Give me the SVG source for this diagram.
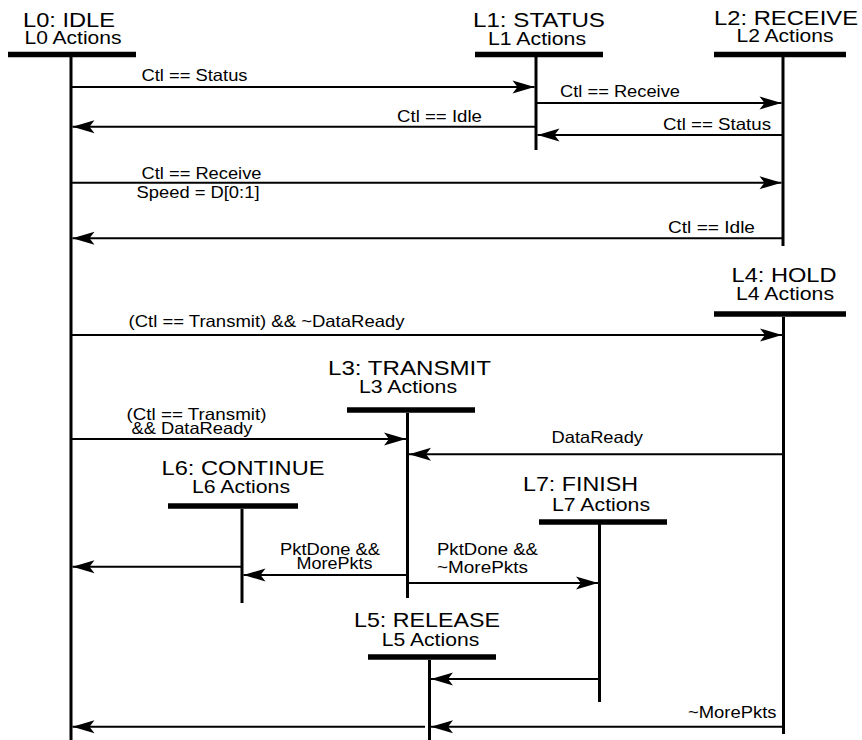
<svg xmlns="http://www.w3.org/2000/svg" width="862" height="740" viewBox="0 0 862 740">
  <style>
    text { font-family: "Liberation Sans", Arial, sans-serif; fill: #000; }
    .title { font-size: 21px; text-anchor: middle; }
    .act { font-size: 17.5px; text-anchor: middle; }
    .lbl { font-size: 16.5px; }
    .bar { stroke: #000; stroke-width: 5.5; }
    .life { stroke: #000; stroke-width: 3; }
    .msg { stroke: #000; stroke-width: 2; fill: none; }
    .arr { marker-end: url(#ah); }
  </style>
  <defs>
    <marker id="ah" markerUnits="userSpaceOnUse" markerWidth="24" markerHeight="16" viewBox="-23 -8 24 16" refX="0" refY="0" orient="auto">
      <path d="M0,0 L-22,-6.5 L-17,0 L-22,6.5 Z" fill="#000"/>
    </marker>
  </defs>
  <rect width="862" height="740" fill="#fff"/>

  <g id="L0">
    <text class="title" x="69" y="27" textLength="92" lengthAdjust="spacingAndGlyphs">L0: IDLE</text>
    <text class="act" x="73" y="44" textLength="97" lengthAdjust="spacingAndGlyphs">L0 Actions</text>
    <line class="bar" x1="8" y1="54.5" x2="136" y2="54.5"/>
    <line class="life" x1="71" y1="57" x2="71" y2="740"/>
  </g>
  <g id="L1">
    <text class="title" x="539" y="27" textLength="132" lengthAdjust="spacingAndGlyphs">L1: STATUS</text>
    <text class="act" x="537" y="45" textLength="98" lengthAdjust="spacingAndGlyphs">L1 Actions</text>
    <line class="bar" x1="475" y1="54.5" x2="603" y2="54.5"/>
    <line class="life" x1="536" y1="57" x2="536" y2="150"/>
  </g>
  <g id="L2">
    <text class="title" x="786" y="25" textLength="144" lengthAdjust="spacingAndGlyphs">L2: RECEIVE</text>
    <text class="act" x="785" y="42" textLength="97" lengthAdjust="spacingAndGlyphs">L2 Actions</text>
    <line class="bar" x1="714" y1="54.5" x2="846" y2="54.5"/>
    <line class="life" x1="783" y1="57" x2="783" y2="246"/>
  </g>
  <g id="L4">
    <text class="title" x="784" y="282" textLength="105" lengthAdjust="spacingAndGlyphs">L4: HOLD</text>
    <text class="act" x="785" y="300" textLength="98" lengthAdjust="spacingAndGlyphs">L4 Actions</text>
    <line class="bar" x1="714" y1="314" x2="846" y2="314"/>
    <line class="life" x1="783.5" y1="317" x2="783.5" y2="734"/>
  </g>
  <g id="L3">
    <text class="title" x="409.5" y="375" textLength="163" lengthAdjust="spacingAndGlyphs">L3: TRANSMIT</text>
    <text class="act" x="408" y="393" textLength="98" lengthAdjust="spacingAndGlyphs">L3 Actions</text>
    <line class="bar" x1="347" y1="410" x2="475" y2="410"/>
    <line class="life" x1="407.5" y1="413" x2="407.5" y2="598"/>
  </g>
  <g id="L6">
    <text class="title" x="243" y="475" textLength="163" lengthAdjust="spacingAndGlyphs">L6: CONTINUE</text>
    <text class="act" x="241" y="493" textLength="98" lengthAdjust="spacingAndGlyphs">L6 Actions</text>
    <line class="bar" x1="168" y1="506" x2="298" y2="506"/>
    <line class="life" x1="242" y1="509" x2="242" y2="603"/>
  </g>
  <g id="L7">
    <text class="title" x="580.5" y="491" textLength="115" lengthAdjust="spacingAndGlyphs">L7: FINISH</text>
    <text class="act" x="601" y="511" textLength="98" lengthAdjust="spacingAndGlyphs">L7 Actions</text>
    <line class="bar" x1="539" y1="522" x2="667" y2="522"/>
    <line class="life" x1="599.5" y1="524" x2="599.5" y2="702"/>
  </g>
  <g id="L5">
    <text class="title" x="427" y="627" textLength="146" lengthAdjust="spacingAndGlyphs">L5: RELEASE</text>
    <text class="act" x="430.5" y="646" textLength="97.5" lengthAdjust="spacingAndGlyphs">L5 Actions</text>
    <line class="bar" x1="368" y1="657" x2="496" y2="657"/>
    <line class="life" x1="429.5" y1="660" x2="429.5" y2="740"/>
  </g>

  <g id="connectors">
    <line class="msg arr" x1="72" y1="87" x2="534.5" y2="87"/>
    <text class="lbl" x="141.5" y="81" textLength="106" lengthAdjust="spacingAndGlyphs">Ctl == Status</text>

    <line class="msg arr" x1="537" y1="103" x2="781.5" y2="103"/>
    <text class="lbl" x="560" y="97" textLength="120" lengthAdjust="spacingAndGlyphs">Ctl == Receive</text>

    <line class="msg arr" x1="535" y1="126.7" x2="72.5" y2="126.7"/>
    <text class="lbl" x="397" y="122" textLength="85" lengthAdjust="spacingAndGlyphs">Ctl == Idle</text>

    <line class="msg arr" x1="782" y1="135" x2="537.5" y2="135"/>
    <text class="lbl" x="663" y="130" textLength="108" lengthAdjust="spacingAndGlyphs">Ctl == Status</text>

    <line class="msg arr" x1="72" y1="182.7" x2="781.5" y2="182.7"/>
    <text class="lbl" x="141.5" y="179" textLength="120" lengthAdjust="spacingAndGlyphs">Ctl == Receive</text>
    <text class="lbl" x="136.5" y="198" textLength="123" lengthAdjust="spacingAndGlyphs">Speed = D[0:1]</text>

    <line class="msg arr" x1="782" y1="238.3" x2="72.5" y2="238.3"/>
    <text class="lbl" x="668" y="233" textLength="87" lengthAdjust="spacingAndGlyphs">Ctl == Idle</text>

    <line class="msg arr" x1="72" y1="335" x2="782" y2="335"/>
    <text class="lbl" x="128.5" y="327" textLength="276" lengthAdjust="spacingAndGlyphs">(Ctl == Transmit) &amp;&amp; ~DataReady</text>

    <line class="msg arr" x1="72" y1="439" x2="406" y2="439"/>
    <text class="lbl" x="126.5" y="420" textLength="140" lengthAdjust="spacingAndGlyphs">(Ctl == Transmit)</text>
    <text class="lbl" x="131.5" y="434" textLength="121" lengthAdjust="spacingAndGlyphs">&amp;&amp; DataReady</text>

    <line class="msg arr" x1="782.5" y1="454.3" x2="409" y2="454.3"/>
    <text class="lbl" x="551.5" y="443" textLength="91.5" lengthAdjust="spacingAndGlyphs">DataReady</text>

    <line class="msg arr" x1="406.5" y1="575" x2="243.5" y2="575"/>
    <text class="lbl" x="280" y="555" textLength="100" lengthAdjust="spacingAndGlyphs">PktDone &amp;&amp;</text>
    <text class="lbl" x="296.5" y="569" textLength="76" lengthAdjust="spacingAndGlyphs">MorePkts</text>

    <line class="msg arr" x1="241" y1="566.7" x2="72.5" y2="566.7"/>

    <line class="msg arr" x1="408.5" y1="583" x2="598" y2="583"/>
    <text class="lbl" x="437" y="555" textLength="101" lengthAdjust="spacingAndGlyphs">PktDone &amp;&amp;</text>
    <text class="lbl" x="437" y="573" textLength="91" lengthAdjust="spacingAndGlyphs">~MorePkts</text>

    <line class="msg arr" x1="598.5" y1="679" x2="431" y2="679"/>

    <line class="msg arr" x1="782.5" y1="726.7" x2="431" y2="726.7"/>
    <text class="lbl" x="688" y="718" textLength="88.5" lengthAdjust="spacingAndGlyphs">~MorePkts</text>

    <line class="msg arr" x1="425" y1="726.7" x2="72.5" y2="726.7"/>
  </g>
</svg>
